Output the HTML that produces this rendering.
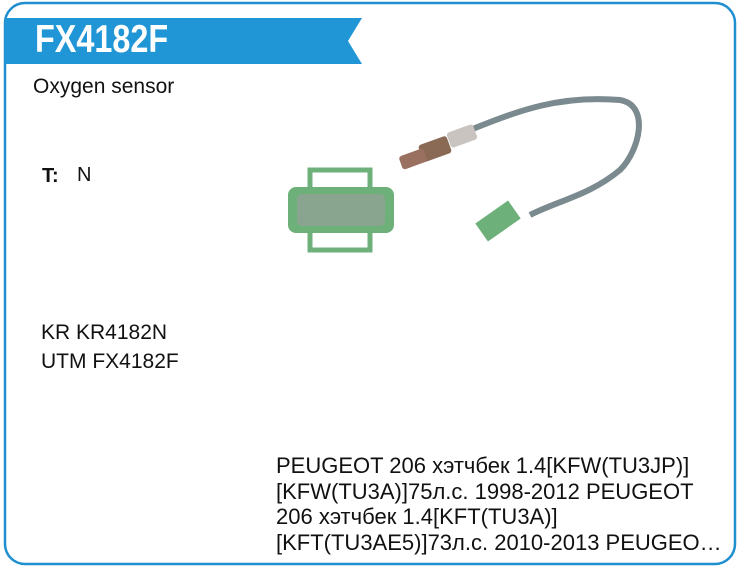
<!DOCTYPE html>
<html><head><meta charset="utf-8"><style>
body{margin:0;width:740px;height:576px;background:#fff;position:relative;font-family:"Liberation Sans","DejaVu Sans",sans-serif;overflow:hidden}
.t{position:absolute;font-size:19px;color:#111;white-space:nowrap}
</style></head><body>
<svg width="740" height="576" style="position:absolute;left:0;top:0">
<rect x="5" y="3" width="730" height="561" rx="20" fill="none" stroke="#1f8fd0" stroke-width="2.5"/>
<polygon points="5,18 362,18 348,41 362,64 5,64" fill="#2196d6"/>
<path d="M470,130 C520,110 560,95 620,100 C650,105 640,150 620,170 C590,195 560,200 530,215" fill="none" stroke="#7b8a8e" stroke-width="6"/>
<rect x="448" y="128" width="28" height="16" rx="3" fill="#c9c4c0" transform="rotate(-20 462 136)"/>
<rect x="420" y="140" width="30" height="18" rx="3" fill="#8a6a55" transform="rotate(-20 435 149)"/>
<rect x="400" y="152" width="26" height="14" rx="3" fill="#9a7060" transform="rotate(-20 413 159)"/>
<rect x="310" y="170" width="60" height="80" fill="none" stroke="#6db07a" stroke-width="5"/>
<rect x="288" y="187" width="106" height="46" rx="8" fill="#6db07a"/>
<rect x="297" y="194" width="88" height="32" rx="5" fill="#8aa58f"/>
<rect x="478" y="210" width="40" height="22" fill="#6db07a" transform="rotate(-35 498 221)"/>
</svg>
<div class="t" style="left:35px;top:18px;font-size:39px;font-weight:bold;color:#fff;transform:scaleX(0.83);transform-origin:0 0">FX4182F</div>
<div class="t" style="left:33px;top:75px;font-size:21px">Oxygen sensor</div>
<div class="t" style="left:42px;top:165px;font-weight:bold;font-size:20px">T:</div>
<div class="t" style="left:77px;top:164px;font-size:20px">N</div>
<div class="t" style="left:41px;top:321px;font-size:21px">KR KR4182N</div>
<div class="t" style="left:41px;top:350px;font-size:21px">UTM FX4182F</div>
<div class="t" style="left:276px;top:453px;line-height:25.5px;font-size:22px">PEUGEOT 206 хэтчбек 1.4[KFW(TU3JP)]<br>[KFW(TU3A)]75л.с. 1998-2012 PEUGEOT<br>206 хэтчбек 1.4[KFT(TU3A)]<br>[KFT(TU3AE5)]73л.с. 2010-2013 PEUGEO…</div>
</body></html>
